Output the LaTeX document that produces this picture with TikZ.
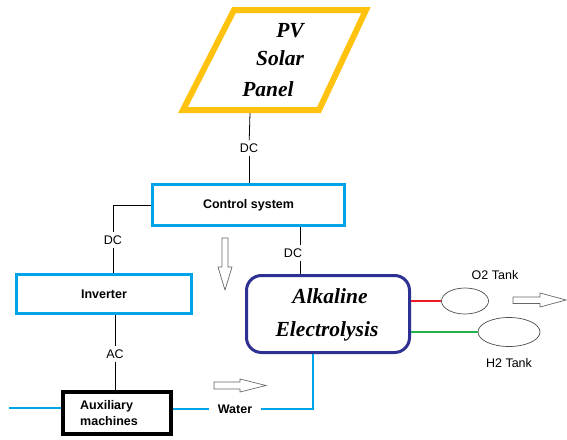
\documentclass[tikz,border=0pt]{standalone}
\usepackage{fontspec}
\setmainfont{Liberation Serif}
\setsansfont{Liberation Sans}
\usetikzlibrary{shapes.geometric}
\definecolor{lblue}{HTML}{00A2E8}
\definecolor{dblue}{HTML}{2E3192}
\definecolor{gold}{HTML}{FFC20E}
\definecolor{pred}{HTML}{ED1C24}
\definecolor{pgreen}{HTML}{22B14C}
\begin{document}
\begin{tikzpicture}[x=1pt,y=-1pt,
  bluebox/.style={draw=lblue,line width=3pt,fill=white,font=\sffamily\bfseries\fontsize{12.5}{14}\selectfont,inner sep=0pt},
  lbl/.style={font=\sffamily\fontsize{12.5}{14}\selectfont,inner sep=3pt},
  conn/.style={draw=black,line width=0.8pt},
  pipe/.style={draw=lblue,line width=2.5pt},
  bigtxt/.style={font=\rmfamily\bfseries\itshape\fontsize{21.5}{24}\selectfont,inner sep=0pt},
  tank/.style={ellipse,draw=black!70,line width=0.7pt,inner sep=0pt},
  hollow/.style={draw=black!60,line width=0.7pt,fill=white}]
\useasboundingbox (0,0) rectangle (567,439);
% PV panel
\draw[gold,line width=6pt,line join=miter] (183,110) -- (319,110) -- (366,10) -- (234,10) -- cycle;
\node[bigtxt] (pv1) at (290,31) {PV};
\node[bigtxt] (pv2) at (280,58) {Solar};
\node[bigtxt] (pv3) at (268,89) {Panel};
\coordinate (pvb) at (250,113);
% boxes
\node[bluebox,minimum width=192pt,minimum height=41pt] (ctrl) at (248.5,205) {Control system};
\node[bluebox,minimum width=175pt,minimum height=39pt] (inv) at (104,294) {Inverter};
\node[draw=black,line width=4pt,minimum width=108pt,minimum height=42pt,inner sep=0pt] (aux) at (117,413) {};
\node[anchor=west,align=left,font=\sffamily\bfseries\fontsize{12.5}{15.5}\selectfont,inner sep=0pt] (auxt) at (80,413) {Auxiliary\\machines};
\node[draw=dblue,line width=3pt,rounded corners=15pt,minimum width=163pt,minimum height=77pt,inner sep=0pt] (elec) at (328,314) {};
\node[bigtxt] (el1) at (330,296) {Alkaline};
\node[bigtxt] (el2) at (327,331) {Electrolysis};
% labels
\node[lbl] (dc1) at (249,148) {DC};
\node[lbl] (dc2) at (113,240) {DC};
\node[lbl] (dc3) at (293,253) {DC};
\node[lbl] (ac) at (115,354) {AC};
\node[font=\sffamily\bfseries\fontsize{12.5}{14}\selectfont,inner xsep=9pt] (water) at (235,409) {Water};
% connectors
\draw[conn] (pvb) -- (dc1);
\draw[conn] (dc1) -- (dc1 |- ctrl.north);
\draw[conn] (ctrl.west) -| (dc2);
\draw[conn] (dc2) -- (dc2 |- inv.north);
\coordinate (c3) at (300,0);
\draw[conn] (ctrl.south -| c3) -- (c3 |- dc3.north);
\draw[conn] (c3 |- dc3.south) -- (c3 |- elec.north);
\coordinate (c4) at (115,0);
\draw[conn] (inv.south -| c4) -- (c4 |- ac.north);
\draw[conn] (c4 |- ac.south) -- (c4 |- aux.north);
% water pipes
\coordinate (wl) at (9,408);
\draw[pipe] (wl) -- (wl -| aux.west);
\draw[pipe] (aux.east |- water) -- (water.west);
\coordinate (wc) at (313,409);
\draw[pipe] (water.east) -- (wc) -- (wc |- elec.south);
% tanks
\node[tank,minimum width=47pt,minimum height=26pt] (o2) at (465,301) {};
\node[tank,minimum width=62pt,minimum height=29pt] (h2) at (509,332) {};
\node[font=\sffamily\fontsize{12.5}{14}\selectfont] (o2t) at (495,275) {O2 Tank};
\node[font=\sffamily\fontsize{12.5}{14}\selectfont] (h2t) at (509,363) {H2 Tank};
\draw[pred,line width=2.5pt] (elec.east |- o2) -- (o2.west);
\draw[pgreen,line width=2.5pt] (elec.east |- h2) -- (h2.west);
% hollow arrows
\draw[hollow] (222,238) -- (228,238) -- (228,267) -- (232,267) -- (225,290) -- (218,267) -- (222,267) -- cycle;
\draw[hollow] (214,382) -- (240,382) -- (240,379) -- (266,385.5) -- (240,392) -- (240,389) -- (214,389) -- cycle;
\draw[hollow] (513,297) -- (540,297) -- (540,293) -- (566,300) -- (540,307) -- (540,303.5) -- (513,303.5) -- cycle;
\end{tikzpicture}
\end{document}
